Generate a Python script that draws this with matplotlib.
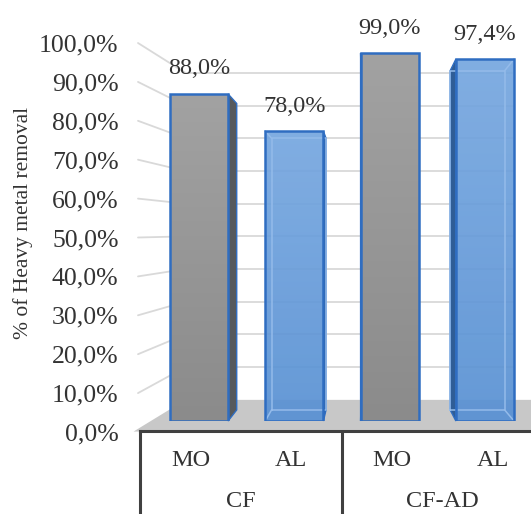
import numpy as np
import matplotlib
matplotlib.use("Agg")
import matplotlib.pyplot as plt
from matplotlib.patches import Polygon, ConnectionPatch
from matplotlib.colors import LinearSegmentedColormap

# removal efficiency per adsorbent, grouped by process
groups = ["CF", "CF-AD"]
adsorbents = ["MO", "AL", "MO", "AL"]
removal = [88.0, 78.0, 99.0, 97.4]
y_ticks = [0, 10, 20, 30, 40, 50, 60, 70, 80, 90, 100]

plt.rcParams["font.family"] = ["Liberation Serif", "DejaVu Serif"]
TEXT = "#333333"
EDGE = "#2f6dc1"
GRID = "#d9d9d9"
FS = 17.5

# pseudo-3D settings (data coords of the bar axes)
VX, VY = 1.74, 47.4          # vanishing point
K_BAR = 0.063                # bar depth
K_WALL = 0.12                # back wall depth
K_FRONT = -0.06              # front edge of the floor
BAR_W = 0.61


def project(x, v, k):
    return (x + k * (VX - x), v + k * (VY - v))


def pct(v):
    return f"{v:.1f}".replace(".", ",") + "%"


fig = plt.figure(figsize=(5.31, 5.14), dpi=100)

# value axis sitting on the front edge of the side wall
ax_lab = fig.add_axes([138 / 531, 1 - 432 / 514, 0.01, 389 / 514])
ax_lab.set_ylim(0, 100)
ax_lab.set_yticks(y_ticks)
ax_lab.set_yticklabels([pct(t) for t in y_ticks])
ax_lab.tick_params(axis="y", length=0, pad=14, labelsize=18.5, labelcolor=TEXT)
ax_lab.set_xticks([])
for s in ax_lab.spines.values():
    s.set_visible(False)
ax_lab.patch.set_visible(False)
fig.text(23 / 531, 1 - 223 / 514, "% of Heavy metal removal", rotation=90,
         ha="center", va="center", fontsize=15.5, color=TEXT)

# bar axes
ax = fig.add_axes([151.4 / 531, 1 - 421 / 514, 381.2 / 531, 371.6 / 514])
ax.set_zorder(1)
ax.set_xlim(-0.5, 3.5)
ax.set_ylim(0, 100)
ax.axis("off")

x = np.arange(len(removal))

# back wall gridlines and side wall lines
wall_l, wall_r = -0.4, 3.52
for t in y_ticks[1:]:
    p0 = project(wall_l, t, K_WALL)
    p1 = project(wall_r, t, K_WALL)
    ax.plot([p0[0], p1[0]], [p0[1], p1[1]], color=GRID, lw=1.3, zorder=0, clip_on=False)
    con = ConnectionPatch(xyA=(0, t), coordsA=ax_lab.transData,
                          xyB=p0, coordsB=ax.transData,
                          color=GRID, lw=1.3, zorder=0)
    fig.add_artist(con)

# floor
floor = [project(-0.55, 0, K_FRONT), project(wall_l, 0, K_WALL),
         project(3.9, 0, K_WALL), project(3.9, 0, K_FRONT)]
ax.add_patch(Polygon(floor, closed=True, facecolor="#c8c8c8", edgecolor="none",
                     zorder=1, clip_on=False))

gray_cmap = LinearSegmentedColormap.from_list("g", ["#8b8b8b", "#a2a2a2"])
blue_cmap = LinearSegmentedColormap.from_list("b", ["#5790d3", "#76a7e0"])
is_blue = [name == "AL" for name in adsorbents]

bars = ax.bar(x, removal, width=BAR_W, color="none", edgecolor=EDGE,
              linewidth=1.8, zorder=5)

for xi, v, bar, blue in zip(x, removal, bars, is_blue):
    x0, x1 = xi - BAR_W / 2, xi + BAR_W / 2
    sx = x1 if xi < VX else x0
    side = [(sx, 0), (sx, v), project(sx, v, K_BAR), project(sx, 0, K_BAR)]
    ax.add_patch(Polygon(side, closed=True,
                         facecolor="#2f5d96" if blue else "#56595c",
                         edgecolor=EDGE, lw=1.0, zorder=3, clip_on=False))

    grad = np.linspace(0, 1, 256).reshape(-1, 1)
    im = ax.imshow(grad, extent=[x0, x1, 0, v], origin="lower", aspect="auto",
                   cmap=blue_cmap if blue else gray_cmap,
                   alpha=0.92 if blue else 1.0, zorder=4)
    im.set_clip_path(bar)

    if blue:
        # back edges seen through the translucent column
        b = [project(px, py, K_BAR) for px, py in
             [(x0, 0), (x1, 0), (x1, v), (x0, v)]]
        bx, by = zip(*(b + [b[0]]))
        ax.plot(bx, by, color="#94bbea", lw=1.1, zorder=4.5)
        near = x0 if xi < VX else x1
        for py in (0, v):
            q = project(near, py, K_BAR)
            ax.plot([near, q[0]], [py, q[1]], color="#94bbea", lw=1.1, zorder=4.5)

    ax.annotate(pct(v), (xi, v), xytext=(0, 18), textcoords="offset points",
                ha="center", va="center", fontsize=FS, color=TEXT, zorder=6)

ax.set_xlim(-0.5, 3.5)
ax.set_ylim(0, 100)

# category table under the floor
ax_cat = fig.add_axes([140 / 531, 0, 403 / 531, 83 / 514])
ax_cat.set_zorder(2)
ax_cat.set_xlim(0, 4)
ax_cat.set_ylim(0, 1)
ax_cat.patch.set_visible(False)
ax_cat.set_xticks([])
ax_cat.set_yticks([])
for name, s in ax_cat.spines.items():
    s.set_visible(name in ("top", "left"))
    s.set_color("#404040")
    s.set_linewidth(2.2)
ax_cat.axvline(2, color="#404040", lw=2.2)
for i, name in enumerate(adsorbents):
    ax_cat.text(i + 0.5, 0.65, name, ha="center", va="center", fontsize=FS, color=TEXT)
for j, g in enumerate(groups):
    ax_cat.text(2 * j + 1, 0.145, g, ha="center", va="center", fontsize=FS, color=TEXT)

fig.savefig("out.png", dpi=100)
